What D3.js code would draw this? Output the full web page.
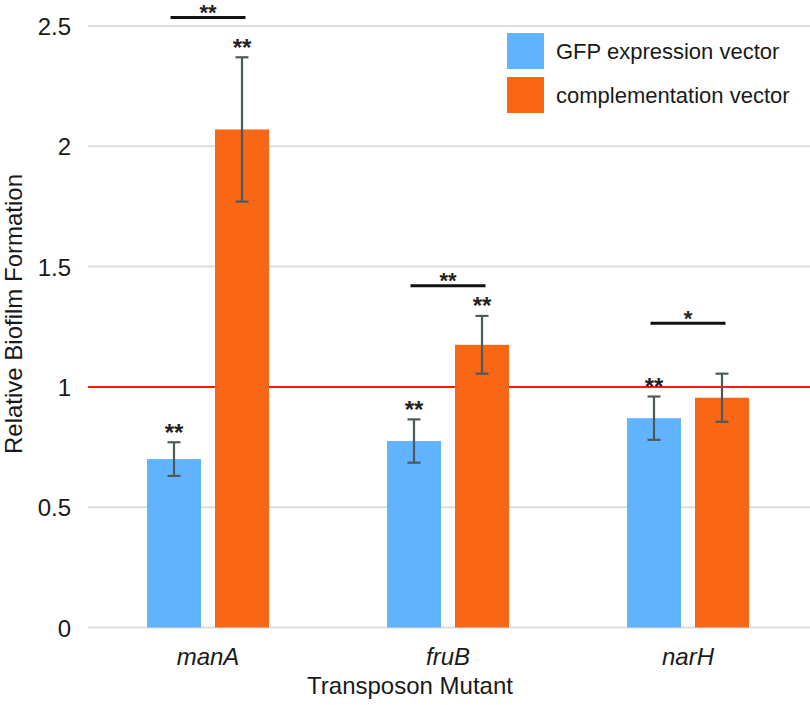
<!DOCTYPE html>
<html>
<head>
<meta charset="utf-8">
<script src="https://cdn.jsdelivr.net/npm/d3@7"></script>
<style>
  html, body { margin: 0; padding: 0; background: #fff; }
  svg { display: block; font-family: "Liberation Sans", Arial, Helvetica, sans-serif; }
</style>
</head>
<body>
<svg id="chart" width="810" height="705"></svg>
<script>
// ---- data ----
const categories = ["manA", "fruB", "narH"];
const seriesNames = ["GFP expression vector", "complementation vector"];
const gfpValues = [0.70, 0.775, 0.87];
const gfpErrors = [0.07, 0.09, 0.09];
const compValues = [2.07, 1.175, 0.955];
const compErrors = [0.30, 0.12, 0.10];
const gfpStars = ["**", "**", "**"];
const compStars = ["**", "**", ""];
const sigLevels = [2.535, 1.42, 1.265];
const sigStars = ["**", "**", "*"];
const yTicks = [0, 0.5, 1, 1.5, 2, 2.5];
const yTickLabels = ["0", "0.5", "1", "1.5", "2", "2.5"];
const referenceValue = 1;

// ---- layout ----
const colors = ["#62b3fd", "#f86616"];
const svg = d3.select("#chart");
const x = d3.scaleBand().domain(categories).range([88, 808]).padding(0);
const y = d3.scaleLinear().domain([0, 2.5]).range([627.5, 26]);
const barW = 54, offset = 34;

// gridlines
svg.append("g").selectAll("line").data(yTicks.filter(t => t !== referenceValue)).join("line")
  .attr("x1", 88).attr("x2", 810)
  .attr("y1", d => y(d)).attr("y2", d => y(d))
  .attr("stroke", "#d9dfde").attr("stroke-width", 2);

// y tick labels via axis
const yAxis = d3.axisLeft(y).tickValues(yTicks).tickFormat((d, i) => yTickLabels[i]).tickSize(0).tickPadding(0);
const yg = svg.append("g").attr("transform", "translate(71,0)").call(yAxis);
yg.select(".domain").remove();
yg.selectAll("text").attr("font-size", 24).attr("fill", "#1a1a1a")
  .attr("font-family", "'Liberation Sans', Arial, sans-serif").attr("dy", "0.36em");

// reference line
svg.append("line").attr("x1", 88).attr("x2", 810)
  .attr("y1", y(referenceValue)).attr("y2", y(referenceValue))
  .attr("stroke", "#fb1a12").attr("stroke-width", 2);

// bars
const series = [
  { name: seriesNames[0], values: gfpValues, errors: gfpErrors, stars: gfpStars, dx: -offset, color: colors[0] },
  { name: seriesNames[1], values: compValues, errors: compErrors, stars: compStars, dx: offset, color: colors[1] }
];

series.forEach(s => {
  const g = svg.append("g");
  g.selectAll("rect").data(categories).join("rect")
    .attr("x", (c) => x(c) + x.bandwidth() / 2 + s.dx - barW / 2)
    .attr("width", barW)
    .attr("y", (c, i) => y(s.values[i]))
    .attr("height", (c, i) => y(0) - y(s.values[i]))
    .attr("fill", s.color);
  // error bars
  categories.forEach((c, i) => {
    const cx = x(c) + x.bandwidth() / 2 + s.dx;
    const top = y(s.values[i] + s.errors[i]);
    const bot = y(s.values[i] - s.errors[i]);
    const eg = g.append("g").attr("stroke", "#4d5a5a").attr("stroke-width", 2.2);
    eg.append("line").attr("x1", cx).attr("x2", cx).attr("y1", top).attr("y2", bot);
    eg.append("line").attr("x1", cx - 6.5).attr("x2", cx + 6.5).attr("y1", top).attr("y2", top);
    eg.append("line").attr("x1", cx - 6.5).attr("x2", cx + 6.5).attr("y1", bot).attr("y2", bot);
    if (s.stars[i]) {
      g.append("text").attr("x", cx).attr("y", top - 1.5)
        .attr("text-anchor", "middle").attr("font-size", 24).attr("font-weight", "bold")
        .attr("fill", "#222").text(s.stars[i]);
    }
  });
});

// significance lines
categories.forEach((c, i) => {
  const cx = x(c) + x.bandwidth() / 2;
  const yy = y(sigLevels[i]);
  svg.append("line").attr("x1", cx - 37.5).attr("x2", cx + 37.5).attr("y1", yy).attr("y2", yy)
    .attr("stroke", "#111").attr("stroke-width", 3);
  svg.append("text").attr("x", cx).attr("y", yy + 2.5).attr("text-anchor", "middle")
    .attr("font-size", 22).attr("font-weight", "bold").attr("fill", "#222").text(sigStars[i]);
});

// x axis labels
const xAxis = d3.axisBottom(x).tickSize(0).tickPadding(0);
const xg = svg.append("g").attr("transform", "translate(0,665)").call(xAxis);
xg.select(".domain").remove();
xg.selectAll("text").attr("font-size", 24).attr("font-style", "italic").attr("fill", "#1a1a1a")
  .attr("font-family", "'Liberation Sans', Arial, sans-serif").attr("dy", 0).attr("y", 0);

// axis titles
svg.append("text").attr("x", 410).attr("y", 694).attr("text-anchor", "middle")
  .attr("font-size", 24).attr("fill", "#1a1a1a").text("Transposon Mutant");
svg.append("text").attr("transform", "translate(22,314) rotate(-90)").attr("text-anchor", "middle")
  .attr("font-size", 24).attr("fill", "#1a1a1a").text("Relative Biofilm Formation");

// legend
const lg = svg.append("g");
seriesNames.forEach((n, i) => {
  lg.append("rect").attr("x", 507).attr("y", 33 + i * 44).attr("width", 37).attr("height", 36)
    .attr("fill", colors[i]);
  lg.append("text").attr("x", 556).attr("y", 59 + i * 44).attr("font-size", 22)
    .attr("fill", "#1a1a1a").text(n);
});
</script>
</body>
</html>
